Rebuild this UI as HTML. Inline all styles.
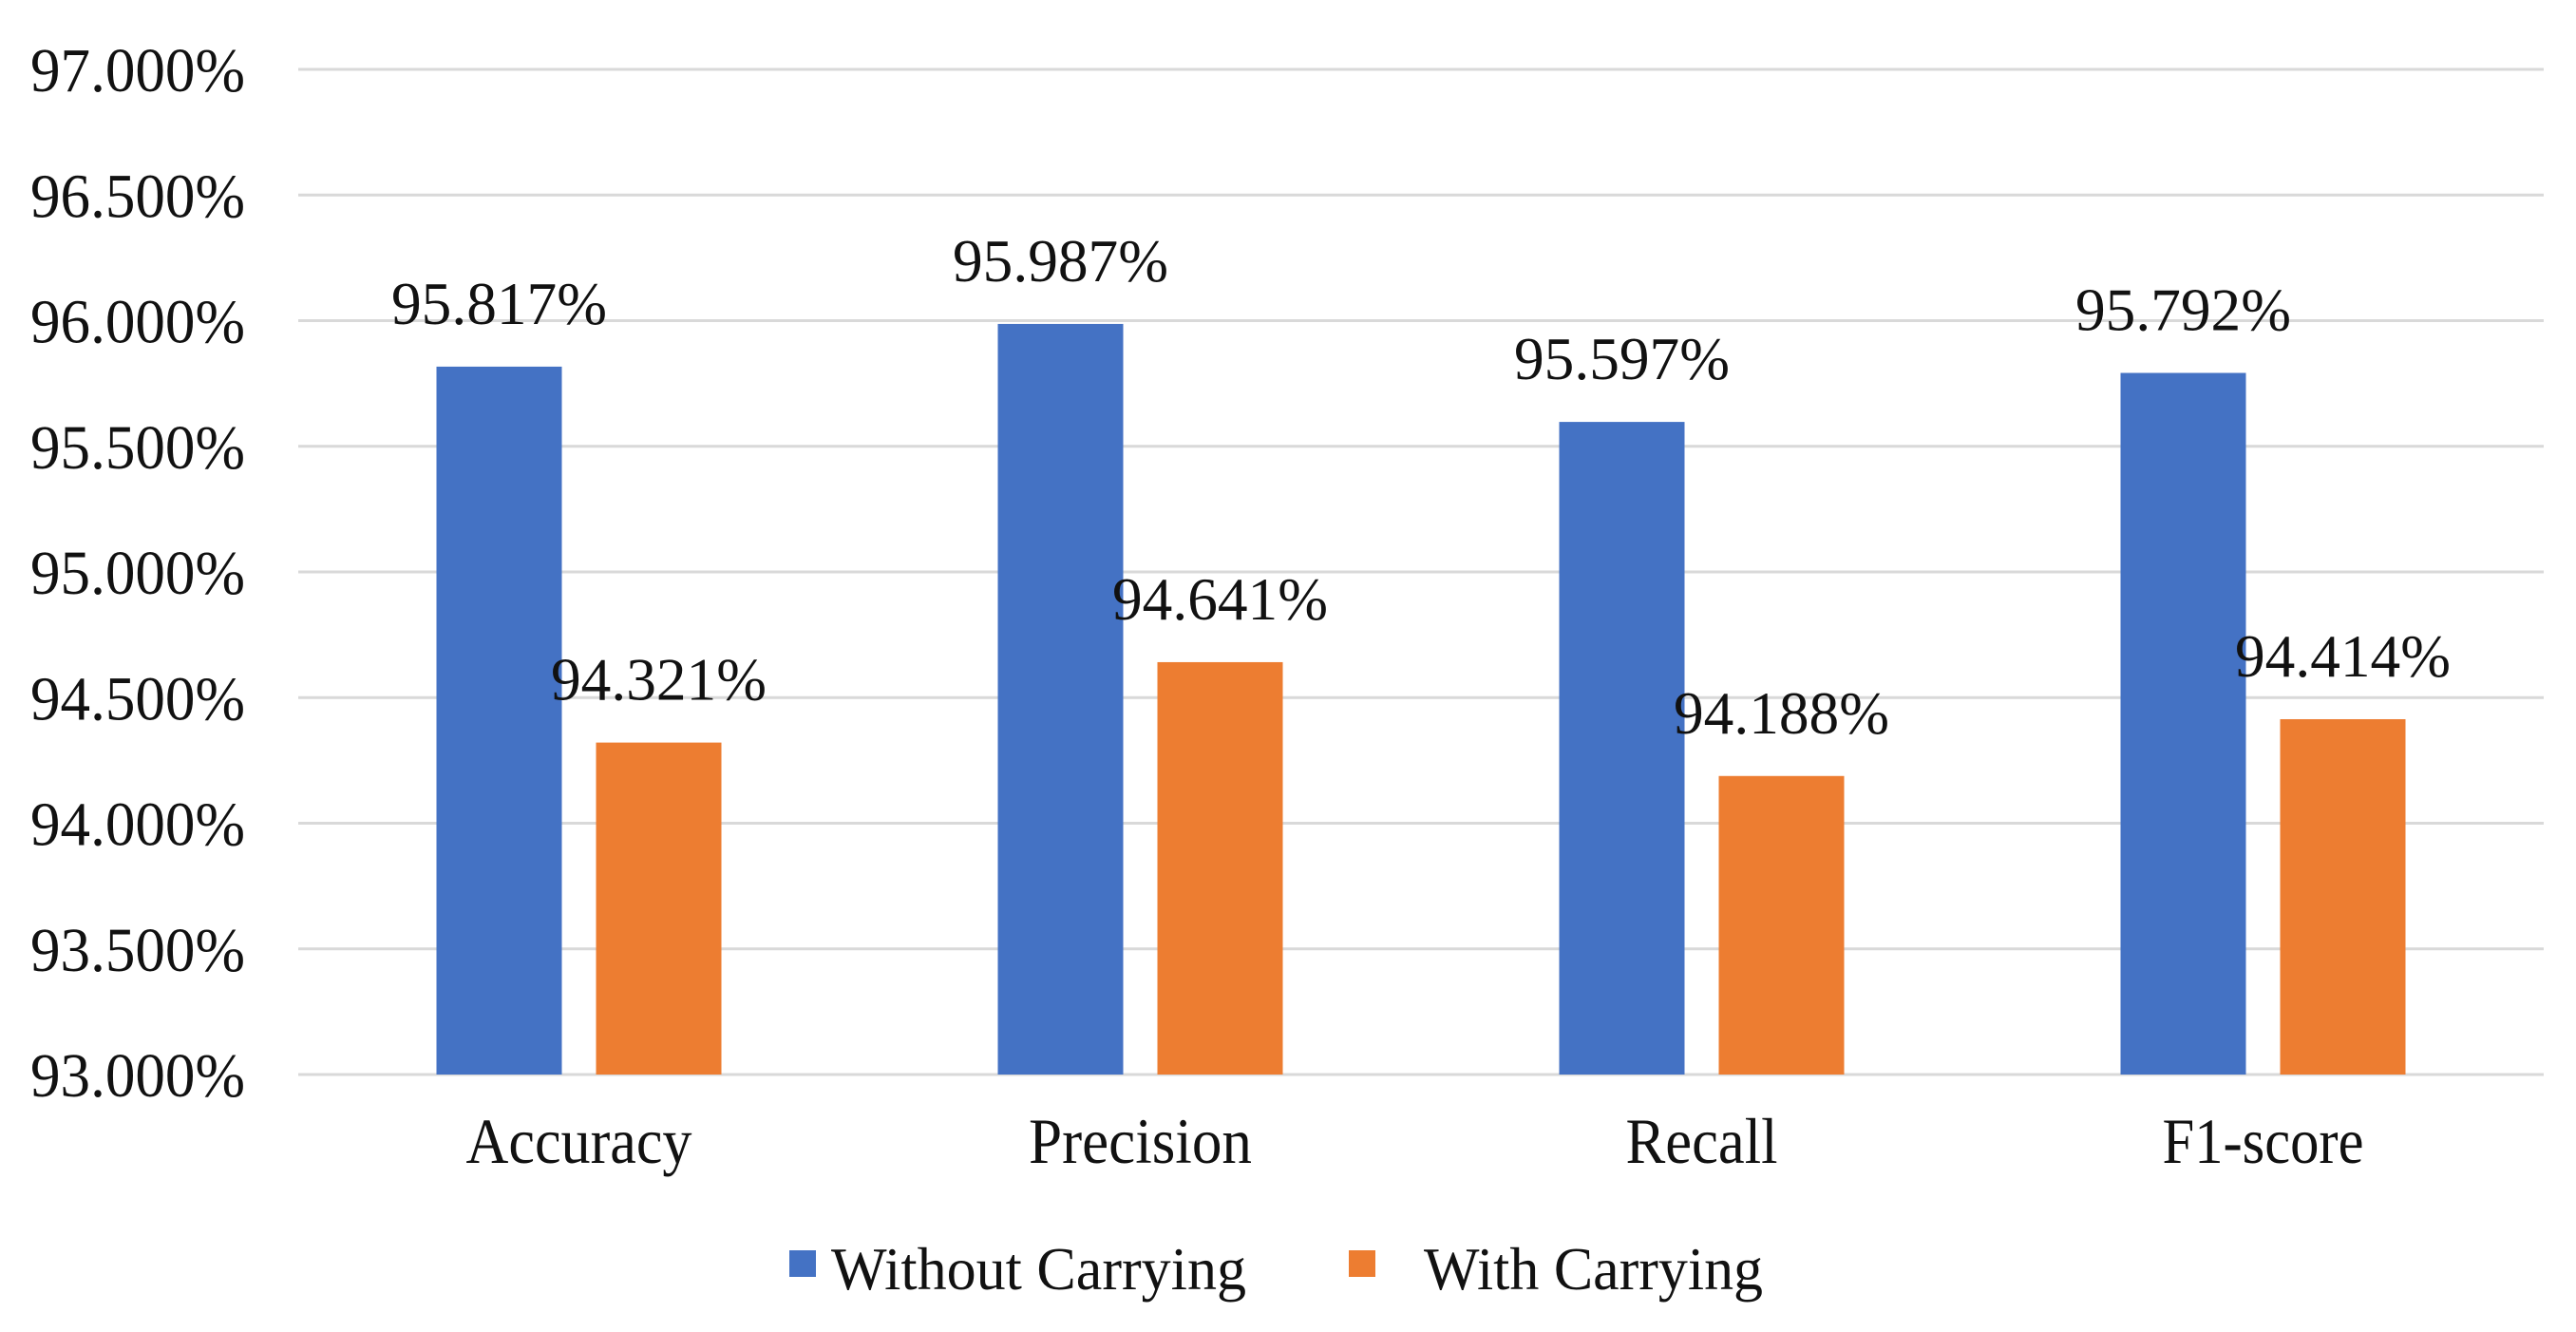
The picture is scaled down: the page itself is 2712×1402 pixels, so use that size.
<!DOCTYPE html>
<html><head><meta charset="utf-8"><style>
html,body{margin:0;padding:0;background:#fff;}
svg{display:block;}
text{font-family:"Liberation Serif",serif;fill:#111;}
</style></head>
<body>
<svg id="chart" width="2712" height="1402" viewBox="0 0 2712 1402" xmlns="http://www.w3.org/2000/svg">
<g id="grid"></g>
<g id="yaxis"></g>
<g id="bars"></g>
<g id="xaxis"></g>
<g id="legend">
  <g>
    <rect x="831" y="1316" width="28" height="28" fill="#4472C4"></rect>
    <text x="875" y="1357" font-size="64" textLength="437" lengthAdjust="spacingAndGlyphs">Without Carrying</text>
  </g>
  <g>
    <rect x="1420" y="1316" width="28" height="28" fill="#ED7D31"></rect>
    <text x="1499" y="1357" font-size="64" textLength="357" lengthAdjust="spacingAndGlyphs">With Carrying</text>
  </g>
</g>
</svg>
<script>
const categories = ["Accuracy", "Precision", "Recall", "F1-score"];
const withoutCarrying = [95.817, 95.987, 95.597, 95.792];
const withCarrying = [94.321, 94.641, 94.188, 94.414];
const yTicks = [93, 93.5, 94, 94.5, 95, 95.5, 96, 96.5, 97];
const yTickLabels = ["93.000%", "93.500%", "94.000%", "94.500%", "95.000%", "95.500%", "96.000%", "96.500%", "97.000%"];
const catLabelWidths = [238, 235, 160, 212];

const NS = "http://www.w3.org/2000/svg";
const plotL = 314, plotR = 2678, plotTop = 73, plotBot = 1131;
const yMin = 93, yMax = 97;
function yScale(v){ return plotBot - (v - yMin) / (yMax - yMin) * (plotBot - plotTop); }
const catW = (plotR - plotL) / categories.length;
function xCenter(i){ return plotL + catW * (i + 0.5); }
function mk(tag, attrs, parent){ const e = document.createElementNS(NS, tag); for (const k in attrs) e.setAttribute(k, attrs[k]); parent.appendChild(e); return e; }

const grid = document.getElementById('grid');
const yaxis = document.getElementById('yaxis');
yTicks.forEach((t, i) => {
  const y = yScale(t);
  const ln = mk('line', {x1: plotL, x2: plotR, y1: y, y2: y, stroke: '#d9d9d9', 'stroke-width': 3}, grid);
  
  
  const tx = mk('text', {x: 258, y: y + 23, 'font-size': 66, 'text-anchor': 'end', textLength: 226, lengthAdjust: 'spacingAndGlyphs'}, yaxis);
  tx.textContent = yTickLabels[i];
  
  
});

const bars = document.getElementById('bars');
const xaxis = document.getElementById('xaxis');
const barW = 132, off = 18;
function drawBar(i, v, x0, color, name){
  const y = yScale(v);
  const r = mk('rect', {x: x0, y: y, width: barW, height: plotBot - y, fill: color}, bars);
  
  
  const t = mk('text', {x: x0 + barW / 2, y: y - 45, 'font-size': 64, 'text-anchor': 'middle', textLength: 227, lengthAdjust: 'spacingAndGlyphs'}, bars);
  t.textContent = v.toFixed(3) + '%';
  
  
}
categories.forEach((c, i) => {
  const cx = xCenter(i);
  drawBar(i, withoutCarrying[i], cx - off - barW, '#4472C4', 'bar-without-carrying');
  drawBar(i, withCarrying[i], cx + off, '#ED7D31', 'bar-with-carrying');
  const t = mk('text', {x: cx, y: 1224, 'font-size': 68, 'text-anchor': 'middle', textLength: catLabelWidths[i], lengthAdjust: 'spacingAndGlyphs'}, xaxis);
  t.textContent = c;
  
  
});
</script>
</body></html>
